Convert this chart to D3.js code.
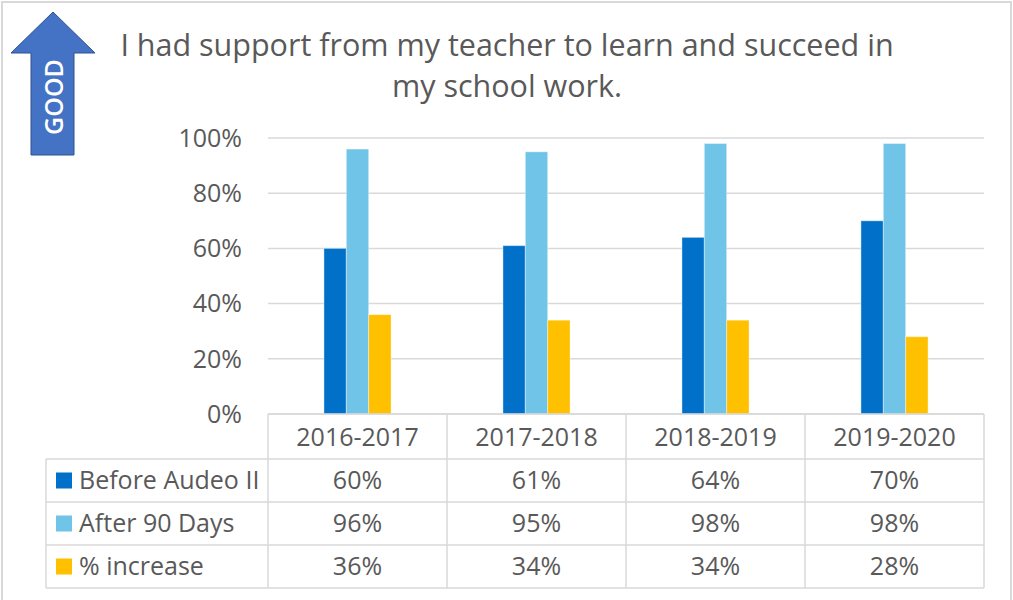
<!DOCTYPE html>
<html lang="en">
<head>
<meta charset="utf-8">
<title>I had support from my teacher</title>
<style>
    body { margin: 0; background: #fff; }
    svg text { font-family: "Open Sans", sans-serif; fill: #595959; }
</style>
</head>
<body>
<script src="https://cdn.jsdelivr.net/npm/d3@7"></script>
<script>

var years = ["2016-2017", "2017-2018", "2018-2019", "2019-2020"];
var seriesNames = ["Before Audeo II", "After 90 Days", "% increase"];
var beforeVals = [60, 61, 64, 70];
var afterVals = [96, 95, 98, 98];
var increaseVals = [36, 34, 34, 28];
var yTicks = [0, 20, 40, 60, 80, 100];
var colors = ["#0070C8", "#70C4E8", "#FFC000"];
var titleLines = ["I had support from my teacher to learn and succeed in", "my school work."];

var series = [beforeVals, afterVals, increaseVals];

var width = 1013, height = 600;
var plot = { left: 268, right: 984, top: 138, bottom: 414 };
var table = { left: 46, rowH: 43, headH: 45 };
var fs = "25px";

var svg = d3.select("body").append("svg")
    .attr("width", width)
    .attr("height", height);

// outer frame
svg.append("rect")
    .attr("x", 2).attr("y", 2)
    .attr("width", width - 4).attr("height", height + 10)
    .attr("fill", "none")
    .attr("stroke", "#d9d9d9")
    .attr("stroke-width", 2);

// GOOD arrow
var arrow = d3.path();
arrow.moveTo(53, 12);
arrow.lineTo(95, 53);
arrow.lineTo(74, 53);
arrow.lineTo(74, 155);
arrow.lineTo(31, 155);
arrow.lineTo(31, 53);
arrow.lineTo(11, 53);
arrow.closePath();
svg.append("path")
    .attr("d", arrow.toString())
    .attr("fill", "#4472C4")
    .attr("stroke", "#2F528F")
    .attr("stroke-width", 1);

svg.append("text")
    .attr("transform", "translate(63,97) rotate(-90)")
    .attr("text-anchor", "middle")
    .style("fill", "#fff")
    .style("font-weight", "600")
    .style("font-size", "25px")
    .text("GOOD");

// title
svg.append("g").selectAll("text")
    .data(titleLines)
  .enter().append("text")
    .attr("x", 507)
    .attr("y", function(d, i) { return 56 + i * 41; })
    .attr("text-anchor", "middle")
    .style("font-size", "30.5px")
    .text(function(d) { return d; });

// scales
var x0 = d3.scaleBand()
    .domain(years)
    .range([plot.left, plot.right]);

var bw = x0.bandwidth();
var x1 = d3.scaleBand()
    .domain(seriesNames)
    .range([bw * 0.3125, bw * 0.6875]);

var y = d3.scaleLinear()
    .domain([0, 100])
    .range([plot.bottom, plot.top]);

// gridlines
svg.append("g").selectAll("line")
    .data(yTicks)
  .enter().append("line")
    .attr("x1", plot.left)
    .attr("x2", plot.right)
    .attr("y1", function(d) { return y(d); })
    .attr("y2", function(d) { return y(d); })
    .attr("stroke", "#d9d9d9")
    .attr("stroke-width", 1.5);

// y labels
svg.append("g").selectAll("text")
    .data(yTicks)
  .enter().append("text")
    .attr("x", 242)
    .attr("y", function(d) { return y(d); })
    .attr("dy", "0.35em")
    .attr("text-anchor", "end")
    .style("font-size", fs)
    .text(function(d) { return d + "%"; });

// bars
var groups = svg.append("g").selectAll("g")
    .data(years)
  .enter().append("g")
    .attr("transform", function(d) { return "translate(" + x0(d) + ",0)"; });

groups.selectAll("rect")
    .data(function(d, i) {
        return seriesNames.map(function(s, k) { return { name: s, value: series[k][i], k: k }; });
    })
  .enter().append("rect")
    .attr("x", function(d) { return x1(d.name); })
    .attr("width", x1.bandwidth())
    .attr("y", function(d) { return y(d.value); })
    .attr("height", function(d) { return y(0) - y(d.value); })
    .attr("fill", function(d) { return colors[d.k]; })
    .attr("stroke", "#fff")
    .attr("stroke-opacity", 0.4)
    .attr("stroke-width", 1);

// data table
var rowTop = plot.bottom + table.headH;
var tableBottom = rowTop + table.rowH * seriesNames.length;
var tg = svg.append("g");

// horizontal lines
tg.selectAll("line.h")
    .data(d3.range(seriesNames.length + 1))
  .enter().append("line")
    .attr("class", "h")
    .attr("x1", table.left)
    .attr("x2", plot.right)
    .attr("y1", function(i) { return rowTop + i * table.rowH; })
    .attr("y2", function(i) { return rowTop + i * table.rowH; })
    .attr("stroke", "#d9d9d9")
    .attr("stroke-width", 1.5);

tg.append("line")
    .attr("x1", plot.left).attr("x2", plot.right)
    .attr("y1", plot.bottom).attr("y2", plot.bottom)
    .attr("stroke", "#d9d9d9").attr("stroke-width", 1.5);

// vertical lines
var vx = years.map(function(d) { return x0(d); }).concat([plot.right]);
tg.selectAll("line.v")
    .data(vx)
  .enter().append("line")
    .attr("class", "v")
    .attr("x1", function(d) { return d; })
    .attr("x2", function(d) { return d; })
    .attr("y1", plot.bottom)
    .attr("y2", tableBottom)
    .attr("stroke", "#d9d9d9")
    .attr("stroke-width", 1.5);

tg.append("line")
    .attr("x1", table.left).attr("x2", table.left)
    .attr("y1", rowTop).attr("y2", tableBottom)
    .attr("stroke", "#d9d9d9").attr("stroke-width", 1.5);

// header labels
tg.selectAll("text.head")
    .data(years)
  .enter().append("text")
    .attr("class", "head")
    .attr("x", function(d) { return x0(d) + bw / 2; })
    .attr("y", plot.bottom + table.headH / 2 + 1)
    .attr("dy", "0.35em")
    .attr("text-anchor", "middle")
    .style("font-size", fs)
    .text(function(d) { return d; });

// legend rows
var rows = tg.selectAll("g.row")
    .data(seriesNames)
  .enter().append("g")
    .attr("class", "row")
    .attr("transform", function(d, i) { return "translate(0," + (rowTop + i * table.rowH + table.rowH / 2) + ")"; });

rows.append("rect")
    .attr("x", 56)
    .attr("y", -8)
    .attr("width", 16)
    .attr("height", 16)
    .attr("fill", function(d, i) { return colors[i]; });

rows.append("text")
    .attr("x", 79)
    .attr("dy", "0.35em")
    .style("font-size", fs)
    .text(function(d) { return d; });

rows.selectAll("text.val")
    .data(function(d, i) { return series[i]; })
  .enter().append("text")
    .attr("class", "val")
    .attr("x", function(d, j) { return x0(years[j]) + bw / 2; })
    .attr("dy", "0.35em")
    .attr("text-anchor", "middle")
    .style("font-size", fs)
    .text(function(d) { return d + "%"; });

</script>
</body>
</html>
